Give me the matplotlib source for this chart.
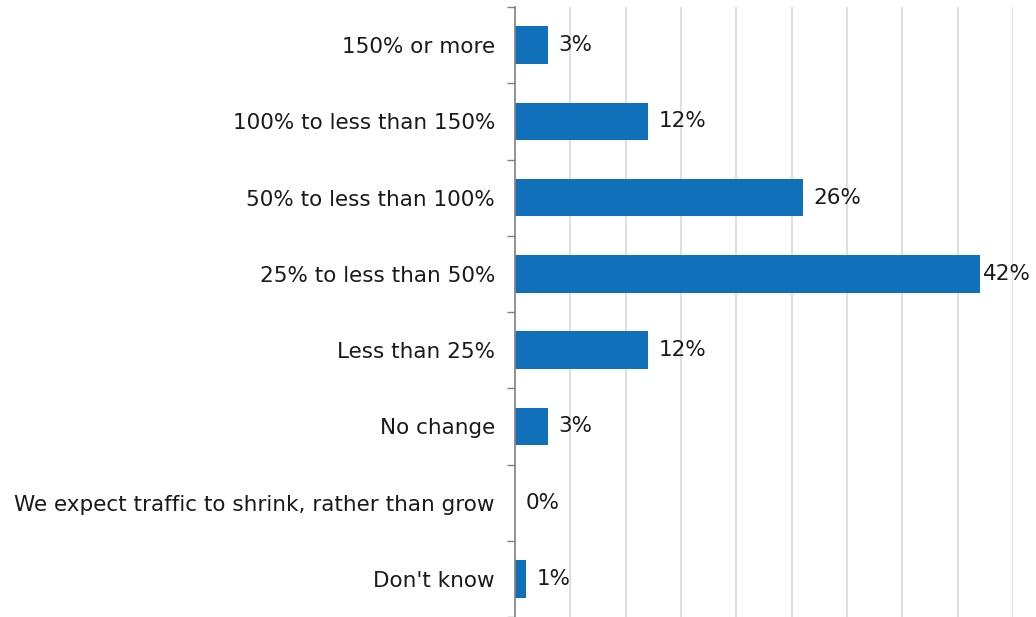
import matplotlib
matplotlib.use("Agg")
import matplotlib.pyplot as plt
import numpy as np

categories = ["150% or more", "100% to less than 150%", "50% to less than 100%",
              "25% to less than 50%", "Less than 25%", "No change",
              "We expect traffic to shrink, rather than grow", "Don't know"]
values = [3, 12, 26, 42, 12, 3, 0, 1]
value_labels = ["3%", "12%", "26%", "42%", "12%", "3%", "0%", "1%"]

plt.rcParams['font.family'] = ['DejaVu Sans']

fig = plt.figure(figsize=(10.36, 6.17), dpi=100)
ax = fig.add_axes([515/1036, 0.0, (1013-515)/1036, 1 - 7/617])

n = len(categories)
y = np.arange(n)
ax.barh(y, values, height=0.49, color="#1170BA", zorder=3)
ax.set_xlim(0, 45)
ax.set_ylim(n - 0.5, -0.5)

ax.set_xticks(np.arange(5, 46, 5))
ax.xaxis.grid(True, color="#D9D9D9", linewidth=1.2, zorder=0)
ax.tick_params(axis='x', length=0, labelbottom=False)

ax.set_yticks(y)
ax.set_yticklabels(categories, fontsize=15.5, color="#1a1a1a")
ax.tick_params(axis='y', which='major', length=0, pad=14.4)
ax.set_yticks(np.arange(-0.5, n, 1), minor=True)
ax.tick_params(axis='y', which='minor', length=6, width=1, color="#808080")

for s in ["top", "right", "bottom"]:
    ax.spines[s].set_visible(False)
ax.spines["left"].set_color("#808080")
ax.spines["left"].set_linewidth(1.2)
ax.spines["left"].set_zorder(4)

vmax = max(values)
for yi, v, lab in zip(y, values, value_labels):
    off = 2 if v == vmax else 7.5
    ax.annotate(lab, xy=(v, yi), xytext=(off, 0), textcoords="offset points",
                va="center", ha="left", fontsize=15.5, color="#1a1a1a",
                annotation_clip=False)

fig.savefig("out.png", dpi=100)
